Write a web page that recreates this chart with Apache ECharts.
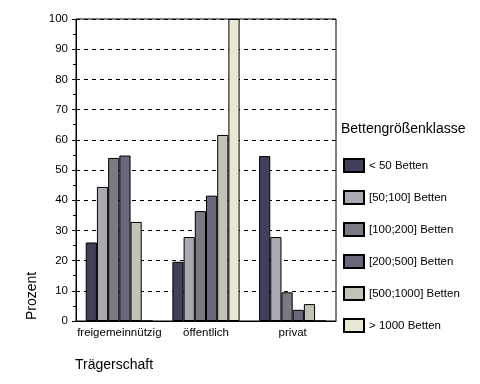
<!DOCTYPE html>
<html>
<head>
<meta charset="utf-8">
<script src="https://cdn.jsdelivr.net/npm/echarts@6/dist/echarts.min.js"></script>
<style>
html,body{margin:0;padding:0;background:#fff;}
#c{width:480px;height:384px;}
</style>
</head>
<body>
<div id="c"></div>
<script>
var categories = ['freigemeinnützig', 'öffentlich', 'privat'];
var seriesNames = ['< 50 Betten', '[50;100] Betten', '[100;200] Betten', '[200;500] Betten', '[500;1000] Betten', '> 1000 Betten'];
var lt50 = [26, 19.6, 54.6];
var b50_100 = [44.4, 27.8, 27.8];
var b100_200 = [54, 36.4, 9.5];
var b200_500 = [54.8, 41.5, 3.7];
var b500_1000 = [32.8, 61.6, 5.6];
var gt1000 = [0, 100, 0];
var yTicks = [0, 10, 20, 30, 40, 50, 60, 70, 80, 90, 100];
var colors = ['#40405a', '#a9a9b2', '#7a7a82', '#68687a', '#c2c2b6', '#e8e8d4'];

var FONT = '"Liberation Sans", Arial, sans-serif';
var allData = [lt50, b50_100, b100_200, b200_500, b500_1000, gt1000];

var chart = echarts.init(document.getElementById('c'), null, {renderer: 'canvas'});
var series = allData.map(function (d, i) {
  return {
    name: seriesNames[i],
    type: 'bar',
    data: d,
    barWidth: 11.2,
    barGap: '0%',
    itemStyle: {color: colors[i], borderColor: '#000', borderWidth: 1},
    emphasis: {disabled: true}
  };
});

chart.setOption({
  animation: false,
  backgroundColor: '#fff',
  textStyle: {fontFamily: FONT, color: '#000'},
  grid: {left: 76, top: 19, width: 260, height: 302, show: true, borderColor: '#000', borderWidth: 1, backgroundColor: 'transparent'},
  title: [
    {text: 'Trägerschaft', left: 75, top: 358, padding: 0, textStyle: {fontSize: 14, fontWeight: 'normal', fontFamily: FONT, color: '#000'}},
    {text: 'Bettengrößenklasse', left: 341, top: 122, padding: 0, textStyle: {fontSize: 14, fontWeight: 'normal', fontFamily: FONT, color: '#000'}}
  ],
  legend: {
    orient: 'vertical',
    left: 343,
    top: 158,
    padding: 0,
    itemWidth: 20,
    itemHeight: 13,
    itemGap: 17,
    icon: 'rect',
    data: seriesNames,
    textStyle: {fontSize: 11.5, fontFamily: FONT, color: '#000'},
    selectedMode: false
  },
  xAxis: {
    type: 'category',
    data: categories,
    axisLine: {lineStyle: {color: '#000', width: 1}},
    axisTick: {alignWithLabel: true, length: 4, lineStyle: {color: '#000'}},
    axisLabel: {interval: 0, fontSize: 11.5, color: '#000', margin: 6, fontFamily: FONT},
    splitLine: {show: false}
  },
  yAxis: {
    type: 'value',
    min: yTicks[0],
    max: yTicks[yTicks.length - 1],
    interval: 10,
    axisLine: {show: true, lineStyle: {color: '#000', width: 1}},
    axisTick: {show: true, length: 4, lineStyle: {color: '#000'}},
    minorTick: {show: true, splitNumber: 2, length: 3, lineStyle: {color: '#000'}},
    axisLabel: {fontSize: 11.5, color: '#000', margin: 8, fontFamily: FONT},
    splitLine: {show: true, lineStyle: {color: '#000', type: [4, 4], width: 1}}
  },
  graphic: [
    {type: 'text', x: 32, y: 296, rotation: Math.PI / 2,
     style: {text: 'Prozent', fill: '#000', font: '14px ' + FONT, align: 'center', verticalAlign: 'middle'}}
  ],
  series: series
});
</script>
</body>
</html>
